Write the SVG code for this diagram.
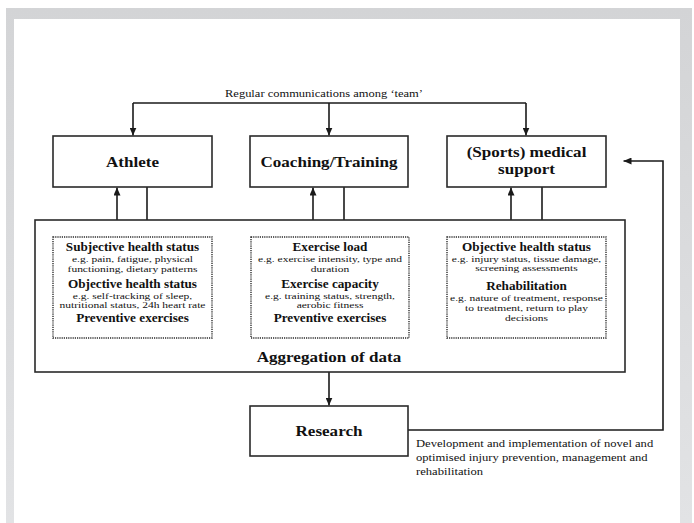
<svg xmlns="http://www.w3.org/2000/svg" width="694" height="523" viewBox="0 0 694 523">
<defs>
<marker id="ah" markerWidth="8" markerHeight="7" refX="8" refY="3.5" orient="auto" markerUnits="userSpaceOnUse"><path d="M0,0 L8,3.5 L0,7 z" fill="#1a1a1a"/></marker>
<linearGradient id="bg" x1="0" y1="0" x2="0" y2="1"><stop offset="0" stop-color="#d3d4d6"/><stop offset="1" stop-color="#e2e3e5"/></linearGradient>
</defs>
<style>
.box{fill:#fff;stroke:#2a2a2a;stroke-width:1.6}
.dot{fill:none;stroke:#2a2a2a;stroke-width:1.4;stroke-dasharray:1.2 1}
.ln{fill:none;stroke:#1a1a1a;stroke-width:1.6}
.tx{font-family:'Liberation Serif','Times New Roman',serif;fill:#111;text-anchor:middle}
.t{font-size:15.5px;font-weight:bold}
.h{font-size:12px;font-weight:bold}
.s{font-size:9.2px}
.d{font-size:10.5px;text-anchor:start}
</style>
<rect x="0" y="0" width="694" height="523" fill="#fff"/>
<rect x="6" y="8" width="686" height="515" fill="url(#bg)"/>
<rect x="14" y="19" width="666" height="504" fill="#fff"/>

<g id="connectors">
<path class="ln" d="M133,103 V135.5" marker-end="url(#ah)"/>
<path class="ln" d="M526,103 V135.5" marker-end="url(#ah)"/>
<path class="ln" d="M133,103 H526"/>
<path class="ln" d="M329,103 V135.5" marker-end="url(#ah)"/>
<path class="ln" d="M117,220 V187.5" marker-end="url(#ah)"/>
<path class="ln" d="M147,187 V236.5" marker-end="url(#ah)"/>
<path class="ln" d="M313,220 V187.5" marker-end="url(#ah)"/>
<path class="ln" d="M344,187 V236.5" marker-end="url(#ah)"/>
<path class="ln" d="M511,220 V187.5" marker-end="url(#ah)"/>
<path class="ln" d="M542,187 V236.5" marker-end="url(#ah)"/>
<path class="ln" d="M329,372 V405.5" marker-end="url(#ah)"/>
<path class="ln" d="M408,430 H663 V161 H623.5" marker-end="url(#ah)"/>
</g>

<g id="comm-label" font-family="Liberation Serif, serif"><text class="tx" style="font-size:10.5px" transform="translate(324,97) scale(1.19,1)">Regular communications among ‘team’</text></g>

<g id="athlete" font-family="Liberation Serif, serif"><rect class="box" x="53" y="136" width="159" height="51"/>
<text class="tx t" transform="translate(132.5,167) scale(1.1,1)">Athlete</text></g>

<g id="coaching" font-family="Liberation Serif, serif"><rect class="box" x="250" y="136" width="158" height="51"/>
<text class="tx t" transform="translate(329,167) scale(1.1,1)">Coaching/Training</text></g>

<g id="medical" font-family="Liberation Serif, serif"><rect class="box" x="447" y="136" width="159" height="51"/>
<text class="tx t" transform="translate(526.5,157) scale(1.1,1)">(Sports) medical</text>
<text class="tx t" transform="translate(526.5,174) scale(1.1,1)">support</text></g>

<g id="aggregation" font-family="Liberation Serif, serif"><rect class="box" x="35" y="220" width="590" height="152" fill="none"/>
<text class="tx t" transform="translate(329,362) scale(1.1,1)">Aggregation of data</text></g>

<g id="athlete-data" font-family="Liberation Serif, serif"><rect class="dot" x="53" y="237" width="159" height="101"/>
<text class="tx h" transform="translate(132.5,251) scale(1.1,1)">Subjective health status</text>
<text class="tx s" transform="translate(132.5,262) scale(1.25,1)">e.g. pain, fatigue, physical</text>
<text class="tx s" transform="translate(132.5,272) scale(1.25,1)">functioning, dietary patterns</text>
<text class="tx h" transform="translate(132.5,288) scale(1.1,1)">Objective health status</text>
<text class="tx s" transform="translate(132.5,298.5) scale(1.25,1)">e.g. self-tracking of sleep,</text>
<text class="tx s" transform="translate(132.5,308) scale(1.25,1)">nutritional status, 24h heart rate</text>
<text class="tx h" transform="translate(132.5,322) scale(1.1,1)">Preventive exercises</text>
</g>

<g id="coaching-data" font-family="Liberation Serif, serif"><rect class="dot" x="251" y="237" width="158" height="101"/>
<text class="tx h" transform="translate(330,251) scale(1.1,1)">Exercise load</text>
<text class="tx s" transform="translate(330,262) scale(1.25,1)">e.g. exercise intensity, type and</text>
<text class="tx s" transform="translate(330,272) scale(1.25,1)">duration</text>
<text class="tx h" transform="translate(330,288) scale(1.1,1)">Exercise capacity</text>
<text class="tx s" transform="translate(330,298.5) scale(1.25,1)">e.g. training status, strength,</text>
<text class="tx s" transform="translate(330,308) scale(1.25,1)">aerobic fitness</text>
<text class="tx h" transform="translate(330,322) scale(1.1,1)">Preventive exercises</text>
</g>

<g id="medical-data" font-family="Liberation Serif, serif"><rect class="dot" x="447" y="237" width="159" height="101"/>
<text class="tx h" transform="translate(526.5,251) scale(1.1,1)">Objective health status</text>
<text class="tx s" transform="translate(526.5,261.5) scale(1.25,1)">e.g. injury status, tissue damage,</text>
<text class="tx s" transform="translate(526.5,271) scale(1.25,1)">screening assessments</text>
<text class="tx h" transform="translate(526.5,290) scale(1.1,1)">Rehabilitation</text>
<text class="tx s" transform="translate(526.5,301) scale(1.25,1)">e.g. nature of treatment, response</text>
<text class="tx s" transform="translate(526.5,311) scale(1.25,1)">to treatment, return to play</text>
<text class="tx s" transform="translate(526.5,321) scale(1.25,1)">decisions</text>
</g>

<g id="research" font-family="Liberation Serif, serif"><rect class="box" x="250" y="406" width="158" height="50"/>
<text class="tx t" transform="translate(329,436) scale(1.1,1)">Research</text></g>

<g id="research-label" font-family="Liberation Serif, serif">
<text class="tx d" transform="translate(416,447) scale(1.2,1)">Development and implementation of novel and</text>
<text class="tx d" transform="translate(416,461) scale(1.2,1)">optimised injury prevention, management and</text>
<text class="tx d" transform="translate(416,475) scale(1.2,1)">rehabilitation</text>
</g>
</svg>
